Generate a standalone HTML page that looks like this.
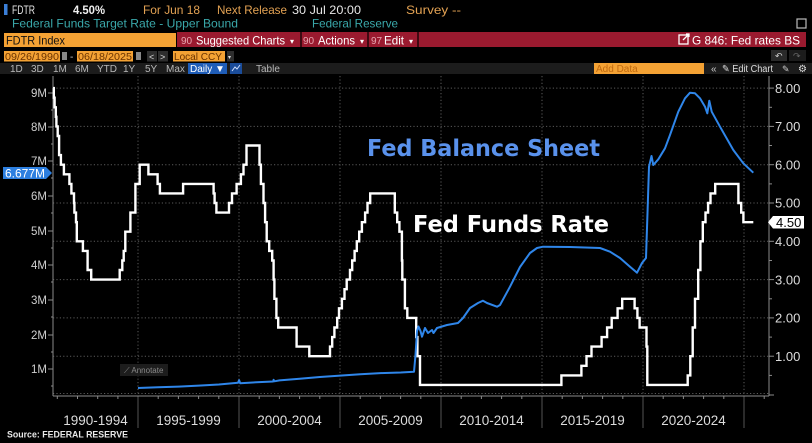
<!DOCTYPE html>
<html><head><meta charset="utf-8"><style>
html,body{margin:0;padding:0;background:#000;width:812px;height:443px;overflow:hidden}
svg{display:block;font-family:"Liberation Sans",sans-serif}
</style></head><body>
<svg width="812" height="443" viewBox="0 0 812 443" xmlns="http://www.w3.org/2000/svg">
<rect width="812" height="443" fill="#000"/>
<!-- Header row 1 -->
<rect x="4" y="4" width="3.5" height="11" fill="#3b7fd8"/>
<text x="12" y="14" font-size="12" fill="#e6e6e6" textLength="23" lengthAdjust="spacingAndGlyphs">FDTR</text>
<text x="73" y="14" font-size="12" font-weight="bold" fill="#f0f0f0" textLength="32" lengthAdjust="spacingAndGlyphs">4.50%</text>
<text x="143" y="14" font-size="12" fill="#e3a253" textLength="57" lengthAdjust="spacingAndGlyphs">For Jun 18</text>
<text x="217" y="14" font-size="12" fill="#e3a253" textLength="70" lengthAdjust="spacingAndGlyphs">Next Release</text>
<text x="292" y="14" font-size="12" fill="#e6e6e6" textLength="69" lengthAdjust="spacingAndGlyphs">30 Jul 20:00</text>
<text x="406" y="14" font-size="12" fill="#e3a253" textLength="55" lengthAdjust="spacingAndGlyphs">Survey --</text>
<!-- Row 2 -->
<text x="12" y="27.5" font-size="12" fill="#3aa8aa" textLength="226" lengthAdjust="spacingAndGlyphs">Federal Funds Target Rate - Upper Bound</text>
<text x="312" y="27.5" font-size="12" fill="#3aa8aa" textLength="86" lengthAdjust="spacingAndGlyphs">Federal Reserve</text>
<rect x="797" y="19" width="9" height="9" fill="none" stroke="#bbb" stroke-width="1.2"/>
<!-- Row 3 -->
<rect x="4" y="33" width="172" height="14" fill="#f4a234"/>
<text x="6" y="44.5" font-size="12" fill="#111" textLength="59" lengthAdjust="spacingAndGlyphs">FDTR Index</text>
<rect x="177" y="32" width="629" height="15" fill="#9a1a2f"/>
<line x1="301" y1="32" x2="301" y2="47" stroke="#000" stroke-width="1.2"/>
<line x1="368" y1="32" x2="368" y2="47" stroke="#000" stroke-width="1.2"/>
<line x1="418" y1="32" x2="418" y2="47" stroke="#000" stroke-width="1.2"/>
<text x="181" y="44" font-size="10" fill="#e7a6b0">90</text>
<text x="196" y="44.5" font-size="12" fill="#fff" textLength="89" lengthAdjust="spacingAndGlyphs">Suggested Charts</text>
<text x="290" y="44" font-size="8" fill="#fff">▾</text>
<text x="303" y="44" font-size="10" fill="#e7a6b0">90</text>
<text x="318" y="44.5" font-size="12" fill="#fff" textLength="37" lengthAdjust="spacingAndGlyphs">Actions</text>
<text x="360" y="44" font-size="8" fill="#fff">▾</text>
<text x="371" y="44" font-size="10" fill="#e7a6b0">97</text>
<text x="384" y="44.5" font-size="12" fill="#fff" textLength="20" lengthAdjust="spacingAndGlyphs">Edit</text>
<text x="409" y="44" font-size="8" fill="#fff">▾</text>
<rect x="679" y="35" width="9" height="9" fill="none" stroke="#fff" stroke-width="1.3"/>
<path d="M683 40 L689 34 M686 34 H689 V37" stroke="#fff" stroke-width="1.3" fill="none"/>
<text x="692" y="44.5" font-size="12" fill="#fff" textLength="108" lengthAdjust="spacingAndGlyphs">G 846: Fed rates BS</text>
<!-- Row 4 -->
<rect x="4" y="51" width="56" height="10.5" fill="#f4a234"/>
<text x="5" y="60" font-size="10.5" fill="#6a3300" textLength="54" lengthAdjust="spacingAndGlyphs">09/26/1990</text>
<rect x="62" y="52" width="5" height="8" fill="#888"/>
<text x="70" y="60" font-size="10" fill="#ccc">-</text>
<rect x="77" y="51" width="56" height="10.5" fill="#f4a234"/>
<text x="78" y="60" font-size="10.5" fill="#6a3300" textLength="54" lengthAdjust="spacingAndGlyphs">06/18/2025</text>
<rect x="136" y="52" width="5" height="8" fill="#888"/>
<rect x="147" y="51" width="10" height="10.5" fill="#2e2e2e"/>
<text x="149" y="60" font-size="9" fill="#ddd">&lt;</text>
<rect x="158" y="51" width="10" height="10.5" fill="#2e2e2e"/>
<text x="160" y="60" font-size="9" fill="#ddd">&gt;</text>
<rect x="173" y="51" width="52" height="10.5" fill="#f4a234"/>
<text x="174" y="60" font-size="10.5" fill="#6a3300" textLength="48" lengthAdjust="spacingAndGlyphs">Local CCY</text>
<rect x="227" y="51" width="7" height="10.5" fill="#2e2e2e"/>
<text x="228" y="59" font-size="6" fill="#ddd">▾</text>
<rect x="771" y="50" width="16" height="11" fill="#2a2a2a"/>
<text x="775" y="59" font-size="9" fill="#ccc">↶</text>
<rect x="789" y="50" width="17" height="11" fill="#1c1c1c"/>
<text x="793" y="59" font-size="9" fill="#666">↷</text>
<!-- Row 5 -->
<rect x="0" y="63" width="812" height="11" fill="#1c1c1c"/>
<g font-size="10" fill="#b8b8b8">
<text x="10" y="72">1D</text><text x="31" y="72">3D</text><text x="53" y="72">1M</text><text x="75" y="72">6M</text>
<text x="97" y="72">YTD</text><text x="123" y="72">1Y</text><text x="145" y="72">5Y</text><text x="166" y="72">Max</text>
<text x="256" y="72">Table</text>
</g>
<rect x="188" y="63" width="39" height="11" fill="#1f5db8"/>
<text x="190" y="72" font-size="10" fill="#fff">Daily ▼</text>
<rect x="230" y="63" width="12" height="11" fill="#1a4c9a"/>
<path d="M232 71 L235 67 L237 69 L240 65" stroke="#cfe0ff" stroke-width="1" fill="none"/>
<rect x="594" y="63" width="110" height="11" fill="#f4a234"/>
<text x="596" y="72" font-size="10" fill="#c06a10">Add Data</text>
<text x="711" y="72" font-size="10" fill="#ccc">«</text>
<text x="722" y="72" font-size="10" fill="#ddd" textLength="51" lengthAdjust="spacingAndGlyphs">✎ Edit Chart</text>
<text x="782" y="72" font-size="9" fill="#ccc">✎</text>
<text x="798" y="72" font-size="10" fill="#ddd">⚙</text>

<!-- Gridlines -->
<g stroke="#5a5a5a" stroke-width="1" stroke-dasharray="1.2,2.2">
<line x1="53" y1="88.1" x2="769" y2="88.1"/>
<line x1="53" y1="126.4" x2="769" y2="126.4"/>
<line x1="53" y1="164.7" x2="769" y2="164.7"/>
<line x1="53" y1="203" x2="769" y2="203"/>
<line x1="53" y1="241.3" x2="769" y2="241.3"/>
<line x1="53" y1="279.6" x2="769" y2="279.6"/>
<line x1="53" y1="317.9" x2="769" y2="317.9"/>
<line x1="53" y1="356.2" x2="769" y2="356.2"/>
<line x1="53" y1="393.5" x2="769" y2="393.5"/>
<line x1="138" y1="76" x2="138" y2="396"/>
<line x1="239" y1="76" x2="239" y2="396"/>
<line x1="340" y1="76" x2="340" y2="396"/>
<line x1="441" y1="76" x2="441" y2="396"/>
<line x1="542" y1="76" x2="542" y2="396"/>
<line x1="643" y1="76" x2="643" y2="396"/>
<line x1="744" y1="76" x2="744" y2="396"/>
</g>
<g stroke="#555" stroke-width="1">
<line x1="138" y1="396" x2="138" y2="428"/>
<line x1="239" y1="396" x2="239" y2="428"/>
<line x1="340" y1="396" x2="340" y2="428"/>
<line x1="441" y1="396" x2="441" y2="428"/>
<line x1="542" y1="396" x2="542" y2="428"/>
<line x1="643" y1="396" x2="643" y2="428"/>
<line x1="744" y1="396" x2="744" y2="428"/>
</g>
<!-- Axes -->
<g stroke="#8a8a8a" stroke-width="1">
<line x1="53" y1="76" x2="53" y2="396"/>
<line x1="769" y1="76" x2="769" y2="396"/>
<line x1="53" y1="396" x2="769" y2="396"/>
<line x1="48" y1="93" x2="53" y2="93"/><line x1="48" y1="127" x2="53" y2="127"/><line x1="48" y1="161" x2="53" y2="161"/>
<line x1="48" y1="196" x2="53" y2="196"/><line x1="48" y1="231" x2="53" y2="231"/><line x1="48" y1="265" x2="53" y2="265"/>
<line x1="48" y1="300" x2="53" y2="300"/><line x1="48" y1="335" x2="53" y2="335"/><line x1="48" y1="369" x2="53" y2="369"/>
<line x1="51" y1="110" x2="53" y2="110"/><line x1="51" y1="144" x2="53" y2="144"/><line x1="51" y1="178" x2="53" y2="178"/>
<line x1="51" y1="213" x2="53" y2="213"/><line x1="51" y1="248" x2="53" y2="248"/><line x1="51" y1="282" x2="53" y2="282"/>
<line x1="51" y1="317" x2="53" y2="317"/><line x1="51" y1="352" x2="53" y2="352"/><line x1="51" y1="386" x2="53" y2="386"/>
<line x1="769" y1="88.1" x2="774" y2="88.1"/><line x1="769" y1="126.4" x2="774" y2="126.4"/><line x1="769" y1="164.7" x2="774" y2="164.7"/>
<line x1="769" y1="203" x2="774" y2="203"/><line x1="769" y1="241.3" x2="774" y2="241.3"/><line x1="769" y1="279.6" x2="774" y2="279.6"/>
<line x1="769" y1="317.9" x2="774" y2="317.9"/><line x1="769" y1="356.2" x2="774" y2="356.2"/><line x1="769" y1="395" x2="774" y2="395"/>
<line x1="769" y1="107.3" x2="772" y2="107.3"/><line x1="769" y1="145.5" x2="772" y2="145.5"/><line x1="769" y1="183.9" x2="772" y2="183.9"/>
<line x1="769" y1="222.2" x2="772" y2="222.2"/><line x1="769" y1="260.5" x2="772" y2="260.5"/><line x1="769" y1="298.8" x2="772" y2="298.8"/>
<line x1="769" y1="337.1" x2="772" y2="337.1"/><line x1="769" y1="375.4" x2="772" y2="375.4"/>
</g>
<g stroke="#8a8a8a" stroke-width="1">
<line x1="57.3" y1="396" x2="57.3" y2="399"/><line x1="77.5" y1="396" x2="77.5" y2="399"/><line x1="97.7" y1="396" x2="97.7" y2="399"/><line x1="117.9" y1="396" x2="117.9" y2="399"/>
<line x1="158.2" y1="396" x2="158.2" y2="399"/><line x1="178.4" y1="396" x2="178.4" y2="399"/><line x1="198.6" y1="396" x2="198.6" y2="399"/><line x1="218.8" y1="396" x2="218.8" y2="399"/>
<line x1="259.2" y1="396" x2="259.2" y2="399"/><line x1="279.4" y1="396" x2="279.4" y2="399"/><line x1="299.6" y1="396" x2="299.6" y2="399"/><line x1="319.8" y1="396" x2="319.8" y2="399"/>
<line x1="360.2" y1="396" x2="360.2" y2="399"/><line x1="380.4" y1="396" x2="380.4" y2="399"/><line x1="400.6" y1="396" x2="400.6" y2="399"/><line x1="420.8" y1="396" x2="420.8" y2="399"/>
<line x1="461.2" y1="396" x2="461.2" y2="399"/><line x1="481.4" y1="396" x2="481.4" y2="399"/><line x1="501.6" y1="396" x2="501.6" y2="399"/><line x1="521.8" y1="396" x2="521.8" y2="399"/>
<line x1="562.2" y1="396" x2="562.2" y2="399"/><line x1="582.4" y1="396" x2="582.4" y2="399"/><line x1="602.6" y1="396" x2="602.6" y2="399"/><line x1="622.8" y1="396" x2="622.8" y2="399"/>
<line x1="663.2" y1="396" x2="663.2" y2="399"/><line x1="683.4" y1="396" x2="683.4" y2="399"/><line x1="703.6" y1="396" x2="703.6" y2="399"/><line x1="723.8" y1="396" x2="723.8" y2="399"/>
<line x1="764.2" y1="396" x2="764.2" y2="399"/>
</g>
<g font-size="11.5" fill="#cfcfcf" text-anchor="end">
<text x="47" y="97">9M</text><text x="47" y="131">8M</text><text x="47" y="165">7M</text>
<text x="47" y="200">6M</text><text x="47" y="235">5M</text><text x="47" y="269">4M</text>
<text x="47" y="304">3M</text><text x="47" y="339">2M</text><text x="47" y="373">1M</text>
</g>
<g font-size="13" fill="#dcdcdc">
<text x="775" y="92.8">8.00</text><text x="775" y="131.1">7.00</text><text x="775" y="169.4">6.00</text>
<text x="775" y="207.7">5.00</text><text x="775" y="246">4.00</text><text x="775" y="284.3">3.00</text>
<text x="775" y="322.6">2.00</text><text x="775" y="360.9">1.00</text>
</g>
<g font-size="13.5" fill="#dcdcdc" text-anchor="middle">
<text x="95.5" y="425">1990-1994</text><text x="188.5" y="425">1995-1999</text><text x="289.5" y="425">2000-2004</text>
<text x="390.5" y="425">2005-2009</text><text x="491.5" y="425">2010-2014</text><text x="592.5" y="425">2015-2019</text>
<text x="693.5" y="425">2020-2024</text>
</g>
<text x="7" y="437.5" font-size="9" font-weight="bold" fill="#e8e8e8" textLength="121" lengthAdjust="spacingAndGlyphs">Source: FEDERAL RESERVE</text>

<rect x="120" y="364" width="48" height="12" fill="#1d1d1d"/>
<text x="124" y="373" font-size="8" fill="#8a8a8a">⟋ Annotate</text>

<path fill="none" stroke="#fff" stroke-width="2.4" stroke-linejoin="miter" d="M53,88.1 H53.8 V97.7 H54.6 V107.3 H55.8 V116.8 H56.4 V126.4 H57.7 V136 H59.1 V155.1 H60.9 V164.7 H63.9 V174.3 H69.4 V183.9 H71.4 V193.4 H74 V203 H74.4 V212.6 H76 V222.2 H76.8 V241.3 H82.9 V250.9 H87.6 V270 H91.2 V279.6 H119.7 V270 H122.3 V260.5 H123.7 V250.9 H125.3 V231.7 H130.4 V212.6 H135.4 V183.9 H139.7 V164.7 H148.4 V174.3 H157.6 V183.9 H159.9 V193.4 H183.1 V183.9 H213.6 V193.4 H214.6 V203 H216.4 V212.6 H229 V203 H232 V193.4 H236.6 V183.9 H240.9 V174.3 H243.5 V164.7 H246.5 V145.5 H259.5 V164.7 H260.9 V183.9 H263.5 V203 H265.1 V222.2 H266.7 V241.3 H269.2 V250.9 H272.2 V260.5 H273.6 V279.6 H274.4 V298.8 H276.4 V317.9 H278.2 V327.5 H296.6 V346.6 H309.3 V356.2 H330 V346.6 H332.2 V337.1 H334.4 V327.5 H337.2 V317.9 H339 V308.3 H341.9 V298.8 H344.5 V289.2 H346.7 V279.6 H350 V270 H352.2 V260.5 H354.6 V250.9 H356.8 V241.3 H359.2 V231.7 H361.9 V222.2 H365.1 V212.6 H367.5 V203 H370.2 V193.4 H394.8 V212.6 H397.2 V222.2 H399.4 V231.7 H401.9 V260.5 H402.3 V279.6 H404.9 V308.3 H407.3 V317.9 H416.2 V337.1 H417.4 V356.2 H420 V384.9 H561.4 V375.4 H581.4 V365.8 H586.5 V356.2 H591.5 V346.6 H601.6 V337.1 H607.1 V327.5 H611.7 V317.9 H617.6 V308.3 H622.2 V298.8 H634.6 V308.3 H637.4 V317.9 H639.6 V327.5 H646.5 V346.6 H647.3 V384.9 H687.7 V375.4 H690.3 V356.2 H692.7 V327.5 H695 V298.8 H698.2 V270 H700.4 V241.3 H702.8 V222.2 H705.5 V212.6 H708.1 V203 H710.5 V193.4 H715.2 V183.9 H738.4 V203 H741.2 V212.6 H743.4 V222.2 H753.3"/>

<path fill="none" stroke="#2f86ea" stroke-width="2" stroke-linejoin="round" d="M138,388 L158,387.3 L178.5,386.6 L198.7,385.6 L218.9,384.5 L238,382.8 L239.1,380.2 L240.2,383.3 L259.3,382.1 L273.2,381.5 L273.6,379.8 L274.4,381.3 L279.5,380.4 L299.7,378.7 L319.9,377 L340.1,375.6 L360.3,374.2 L380.5,373.1 L400.7,372.5 L414,371.8 L415.5,355 L417,331 L418.5,326.5 L420.5,331 L422,336.7 L425,328 L428,333 L432,330 L433.5,333 L437,328 L447,325 L458,323 L463,318 L470,308 L478,303 L483,300.7 L487,303 L497,306.7 L500,305 L510,286.7 L520,267 L530,253 L537,248 L543,246.7 L570,247 L600,248 L610,251.7 L620,258 L630,266.7 L637,272.7 L642,263 L646,258 L647.5,213 L649,166.7 L651.5,156 L653.3,165 L658.3,159.3 L665,148.3 L670,135 L678.3,111.7 L685,98.3 L690,92.7 L695,93.3 L700,98.3 L705,106.7 L707.3,113.3 L709.3,100.7 L711.7,111.7 L720,126.7 L733.3,150 L743.3,163.3 L753.3,172.7"/>

<text x="367" y="156" font-family="DejaVu Sans, sans-serif" font-weight="bold" font-size="23" fill="#5a92ec" textLength="233" lengthAdjust="spacingAndGlyphs">Fed Balance Sheet</text>
<text x="413" y="232" font-family="DejaVu Sans, sans-serif" font-weight="bold" font-size="23" fill="#ffffff" textLength="196" lengthAdjust="spacingAndGlyphs">Fed Funds Rate</text>

<path d="M3,167 H46 L52,173 L46,179 H3 Z" fill="#2d7fe0"/>
<text x="5" y="177.5" font-size="12" fill="#fff" textLength="40" lengthAdjust="spacingAndGlyphs">6.677M</text>
<path d="M768,222.2 L773,216 H804 V228.5 H773 Z" fill="#fff"/>
<text x="776" y="227" font-size="13" fill="#000">4.50</text>
</svg>
</body></html>
